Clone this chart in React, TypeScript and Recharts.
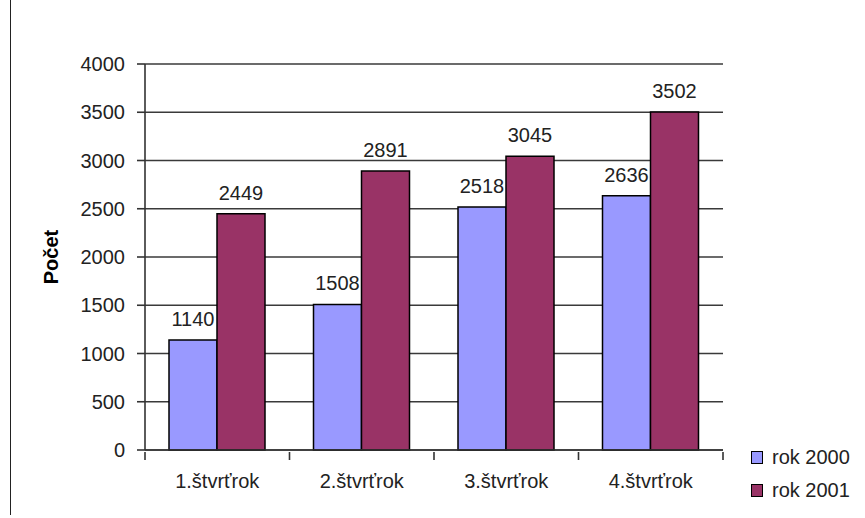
import { BarChart, Bar, XAxis, YAxis, CartesianGrid, LabelList, Legend, Label } from "recharts";

const categories = ["1.štvrťrok", "2.štvrťrok", "3.štvrťrok", "4.štvrťrok"];
const rok2000 = [1140, 1508, 2518, 2636];
const rok2001 = [2449, 2891, 3045, 3502];
const seriesNames = ["rok 2000", "rok 2001"];
const seriesColors = ["#9999FF", "#993366"];
const yTicks = [0, 500, 1000, 1500, 2000, 2500, 3000, 3500, 4000];

const data = categories.map((name, i) => ({
  name,
  rok2000: rok2000[i],
  rok2001: rok2001[i],
}));

const W = 865;
const H = 518;
const M = { top: 64, right: 142, bottom: 0, left: 0 };
const Y_AXIS_W = 145;
const BAND = (W - M.left - M.right - Y_AXIS_W) / categories.length;

const FONT = "'Liberation Sans', Arial, sans-serif";
const tickStyle = { fontSize: 20, fill: "#222", fontFamily: FONT };

// y axis title, rotated
const PocetLabel = (props: any) => {
  const vb = props.viewBox || {};
  const cy = (vb.y || 0) + (vb.height || 0) / 2;
  return (
    <text
      x={58}
      y={cy}
      transform={`rotate(-90, 58, ${cy})`}
      textAnchor="middle"
      fontSize={20}
      fontWeight="bold"
      fontFamily={FONT}
      fill="#000"
    >
      Počet
    </text>
  );
};

// category label plus tick marks at the category edges (Excel style)
const CatTick = (props: any) => {
  const { x, y, payload, index } = props;
  const left = x - BAND / 2;
  const right = x + BAND / 2;
  return (
    <g>
      <line x1={left} y1={y} x2={left} y2={y + 8} stroke="#333" strokeWidth={1.6} />
      {index === categories.length - 1 && (
        <line x1={right} y1={y} x2={right} y2={y + 8} stroke="#333" strokeWidth={1.6} />
      )}
      <text x={x} y={y + 36} textAnchor="middle" {...tickStyle}>
        {payload.value}
      </text>
    </g>
  );
};

const LegendBox = () => (
  <div style={{ fontFamily: FONT, fontSize: 20, color: "#222" }}>
    {seriesNames.map((n, i) => (
      <div key={n} style={{ display: "flex", alignItems: "center", height: 33 }}>
        <span
          style={{
            display: "inline-block",
            width: 10,
            height: 11,
            background: seriesColors[i],
            border: "1px solid #000",
            marginRight: 9,
          }}
        />
        {n}
      </div>
    ))}
  </div>
);

export default function App() {
  return (
    <div style={{ position: "absolute", left: 0, top: 0, width: W, height: H, background: "#fff" }}>
      <div style={{ position: "absolute", left: 10, top: 0, width: 0, height: 515, borderLeft: "1.5px solid #222" }} />
      <BarChart
        width={W}
        height={H}
        data={data}
        margin={M}
        barCategoryGap={24}
        barGap={0}
      >
        <CartesianGrid vertical={false} stroke="#3a3a3a" strokeWidth={1.6} />
        <XAxis
          dataKey="name"
          height={68}
          tickLine={false}
          tickSize={0}
          tick={<CatTick />}
          interval={0}
          stroke="#333"
          strokeWidth={1.6}
        />
        <YAxis
          width={Y_AXIS_W}
          domain={[0, 4000]}
          ticks={yTicks}
          interval={0}
          tickSize={8}
          tickMargin={12}
          tick={tickStyle}
          stroke="#333"
          strokeWidth={1.6}
        >
          <Label content={<PocetLabel />} />
        </YAxis>
        <YAxis
          yAxisId="border"
          orientation="right"
          width={0}
          domain={[0, 4000]}
          tick={false}
          tickLine={false}
          stroke="#555"
          strokeWidth={1.5}
        />
        <Legend
          layout="vertical"
          align="center"
          verticalAlign="middle"
          content={<LegendBox />}
          wrapperStyle={{ left: 751, top: 441, width: 114, height: 70 }}
        />
        <Bar dataKey="rok2000" name={seriesNames[0]} fill={seriesColors[0]} stroke="#000" strokeWidth={1.5} isAnimationActive={false}>
          <LabelList dataKey="rok2000" position="top" offset={14} style={tickStyle} />
        </Bar>
        <Bar dataKey="rok2001" name={seriesNames[1]} fill={seriesColors[1]} stroke="#000" strokeWidth={1.5} isAnimationActive={false}>
          <LabelList dataKey="rok2001" position="top" offset={14} style={tickStyle} />
        </Bar>
      </BarChart>
    </div>
  );
}
